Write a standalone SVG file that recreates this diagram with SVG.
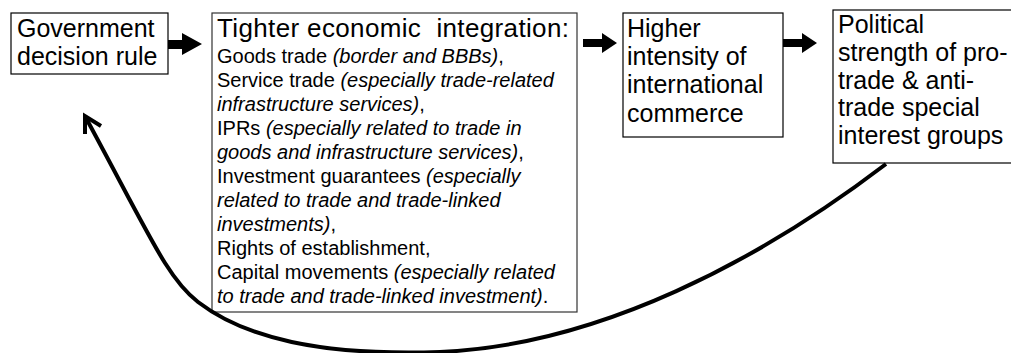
<svg xmlns="http://www.w3.org/2000/svg" width="1011" height="353" viewBox="0 0 1011 353">
<style>
.box{fill:#fff;stroke:#000;stroke-width:1.2}
.big{font-family:"Liberation Sans",Arial,sans-serif;font-size:25px;fill:#000}
.body{font-family:"Liberation Sans",Arial,sans-serif;font-size:20px;fill:#000}
.it{font-style:italic}
.blk{fill:#000;stroke:none}
.curve{fill:none;stroke:#000;stroke-width:4;stroke-linecap:butt;stroke-linejoin:miter}
</style>
<rect width="1011" height="353" fill="#fff"/>
<g id="node-government">
<rect class="box" x="11" y="13" width="157" height="61"/>
<text class="big" x="17" y="37">Government</text>
<text class="big" x="17" y="65">decision rule</text>
</g>
<g id="node-integration">
<rect class="box" x="212" y="13" width="365" height="299" style="stroke:#333"/>
<text class="big" x="217" y="37" style="font-size:26px" textLength="352" lengthAdjust="spacing" xml:space="preserve">Tighter economic  integration:</text>
<text class="body" x="217" y="63">Goods trade <tspan class="it">(border and BBBs)</tspan>,</text>
<text class="body" x="217" y="87">Service trade <tspan class="it">(especially trade-related</tspan></text>
<text class="body" x="217" y="111"><tspan class="it">infrastructure services)</tspan>,</text>
<text class="body" x="217" y="135">IPRs <tspan class="it">(especially related to trade in</tspan></text>
<text class="body" x="217" y="159"><tspan class="it">goods and infrastructure services)</tspan>,</text>
<text class="body" x="217" y="183">Investment guarantees <tspan class="it">(especially</tspan></text>
<text class="body" x="217" y="207"><tspan class="it">related to trade and trade-linked</tspan></text>
<text class="body" x="217" y="231"><tspan class="it">investments)</tspan>,</text>
<text class="body" x="217" y="255">Rights of establishment,</text>
<text class="body" x="217" y="279">Capital movements <tspan class="it">(especially related</tspan></text>
<text class="body" x="217" y="303"><tspan class="it">to trade and trade-linked investment)</tspan>.</text>
</g>
<g id="node-commerce">
<rect class="box" x="623" y="13" width="160" height="124"/>
<text class="big" x="627" y="37">Higher</text>
<text class="big" x="627" y="65">intensity of</text>
<text class="big" x="627" y="93">international</text>
<text class="big" x="627" y="122">commerce</text>
</g>
<g id="node-political">
<rect class="box" x="833" y="10" width="182" height="153"/>
<text class="big" x="838" y="33">Political</text>
<text class="big" x="838" y="61">strength of pro-</text>
<text class="big" x="838" y="89">trade &amp; anti-</text>
<text class="big" x="838" y="116">trade special</text>
<text class="big" x="838" y="144">interest groups</text>
</g>
<g id="connectors">
<polygon class="blk" points="168,40 182,40 182,33 202,44 182,55 182,49 168,49"/>
<polygon class="blk" points="583,39 602,39 602,33 617,43 602,53 602,47 583,47"/>
<polygon class="blk" points="783,39 802,39 802,33 817,43 802,53 802,47 783,47"/>
<path class="curve" d="M886,164 C760,260 600,345 440,352 C320,356 245,338 198,302 C168,279 152,240 86,118"/>
<polyline class="curve" points="85,134 85,116 101,126"/>
</g>
</svg>
